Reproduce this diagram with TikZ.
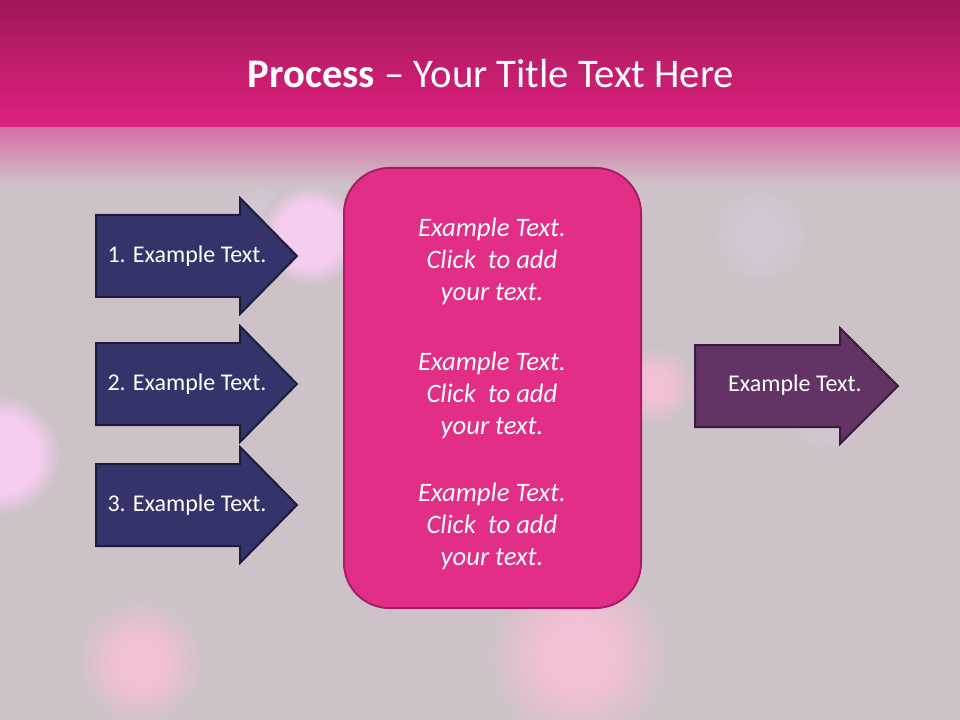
\documentclass[tikz,border=0pt]{standalone}
\usepackage{fontspec}
\setmainfont{Carlito}
\usetikzlibrary{positioning}
\definecolor{bandtop}{HTML}{A11858}
\definecolor{bandmid}{HTML}{DF2180}
\definecolor{bandfade}{HTML}{D86CA2}
\definecolor{slide}{HTML}{CEC2C9}
\definecolor{navy}{HTML}{35346A}
\definecolor{navyline}{HTML}{1D1C3E}
\definecolor{plum}{HTML}{633366}
\definecolor{plumline}{HTML}{3A1B3D}
\definecolor{boxpink}{HTML}{E22E87}
\definecolor{boxline}{HTML}{A61F66}
\definecolor{bokeh}{HTML}{F2C0D4}
\definecolor{bokehlilac}{HTML}{F6CCEE}
\definecolor{bokehpale}{HTML}{D2C6D2}
\pgfdeclareradialshading{spotpink}{\pgfpoint{0bp}{0bp}}{color(0bp)=(bokeh); color(10bp)=(bokeh); color(25bp)=(slide); color(50bp)=(slide)}
\pgfdeclareradialshading{spotlilac}{\pgfpoint{0bp}{0bp}}{color(0bp)=(bokehlilac); color(16bp)=(bokehlilac); color(25bp)=(slide); color(50bp)=(slide)}
\pgfdeclareradialshading{spotpale}{\pgfpoint{0bp}{0bp}}{color(0bp)=(bokehpale); color(14bp)=(bokehpale); color(25bp)=(slide); color(50bp)=(slide)}

\begin{document}
\begin{tikzpicture}[x=0.75pt,y=-0.75pt]
	\tikzstyle{left arrow}=[fill=navy, draw=navyline, line width=1.5pt, line join=miter]
	\tikzstyle{right arrow}=[left arrow, fill=plum, draw=plumline]
	\tikzstyle{arrow text}=[text=white, font=\fontsize{18}{21}\selectfont]
	\tikzstyle{box text}=[text=white, align=center, font=\fontsize{20}{24}\selectfont\itshape]

	\useasboundingbox (0,0) rectangle (960,720);
	\clip (0,0) rectangle (960,720);

	% background and title band
	\fill[slide] (0,0) rectangle (960,720);
	\shade[top color=bandfade, bottom color=slide] (0,126) rectangle (960,185);
	\shade[top color=bandtop, bottom color=bandmid] (0,0) rectangle (960,127);

	% bokeh spots
	\path[shading=spotlilac] (0,455) circle (60);
	\path[shading=spotpink] (140,662) circle (62);
	\path[shading=spotpink] (578,655) circle (90);
	\path[shading=spotpink] (655,385) circle (38);
	\path[shading=spotpale] (262,215) circle (30);
	\path[shading=spotlilac] (310,235) circle (50);
	\path[shading=spotpale] (185,505) circle (40);
	\path[shading=spotpale] (760,235) circle (48);
	\path[shading=spotpale] (825,410) circle (42);

	\node[text=white, anchor=base, font=\fontsize{30.5}{36}\selectfont] (T) at (491,88) {\textbf{Process} -- Your Title Text Here};

	% input arrows
	\foreach \i/\yc in {1/256,2/384,3/505}{
		\draw[left arrow] (96,\yc-41) -- (240,\yc-41) -- (240,\yc-58) -- (297,\yc)
			-- (240,\yc+58) -- (240,\yc+41) -- (96,\yc+41) -- cycle;
		\node[arrow text] (A-\i) at (187,\yc) {\i. Example Text.};
		}

	% centre box
	\draw[fill=boxpink, draw=boxline, line width=1.5pt, rounded corners=34pt] (344,168) rectangle (641,608);
	\node (B) at (492,388) {};
	\foreach \i/\yc in {1/261,2/395,3/526}{
		\node[box text] (C-\i) at (492,\yc) {Example Text.\\Click~ to add\\your text.};
		}

	% output arrow
	\draw[right arrow] (695,345) -- (840,345) -- (840,328) -- (898,386)
		-- (840,444) -- (840,427) -- (695,427) -- cycle;
	\node[arrow text] (R) at (795,385) {Example Text.};
\end{tikzpicture}
\end{document}
